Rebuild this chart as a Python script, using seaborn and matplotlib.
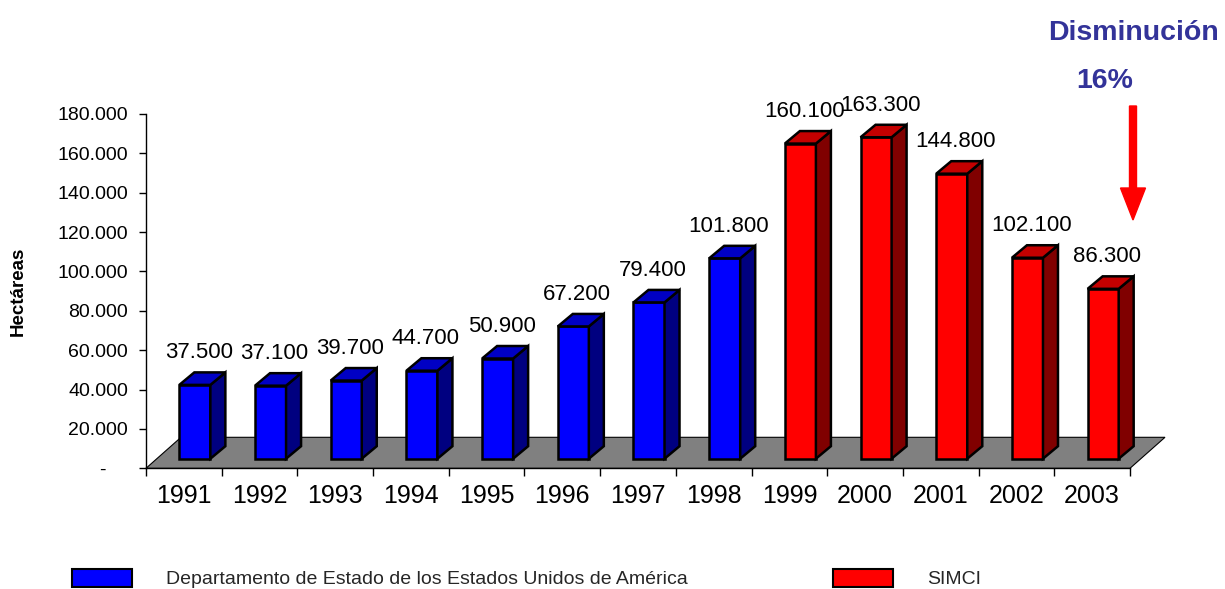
import numpy as np
import pandas as pd
import matplotlib
matplotlib.use("Agg")
import matplotlib.pyplot as plt
import seaborn as sns
from matplotlib.patches import Polygon, Patch, FancyArrow
from matplotlib.transforms import ScaledTranslation

# ---------------- data ----------------
years = ["1991", "1992", "1993", "1994", "1995", "1996", "1997",
         "1998", "1999", "2000", "2001", "2002", "2003"]
dos_years = years[:8]
dos_values = [37500, 37100, 39700, 44700, 50900, 67200, 79400, 101800]
simci_years = years[8:]
simci_values = [160100, 163300, 144800, 102100, 86300]
source_labels = ["Departamento de Estado de los Estados Unidos de América", "SIMCI"]
y_ticks = [0, 20000, 40000, 60000, 80000, 100000, 120000, 140000, 160000, 180000]
y_label = "Hectáreas"
note_title = "Disminución"
note_value = "16%"

df = pd.DataFrame({
    "year": dos_years + simci_years,
    "value": dos_values + simci_values,
    "source": [source_labels[0]] * len(dos_years) + [source_labels[1]] * len(simci_years),
})

# ---------------- style ----------------
sns.set_style("white")
plt.rcParams["font.family"] = ["Liberation Sans", "DejaVu Sans"]

DPI = 100
W, H = 1225, 589
fig = plt.figure(figsize=(W / DPI, H / DPI), dpi=DPI, facecolor="white")
ax = fig.add_axes([146 / W, 1 - 468.3 / H, 984 / W, 354.3 / H])

front = {source_labels[0]: "#0000FF", source_labels[1]: "#FF0000"}
top_c = {source_labels[0]: "#0000C4", source_labels[1]: "#C40000"}
side_c = {source_labels[0]: "#000080", source_labels[1]: "#800000"}

sns.barplot(data=df, x="year", y="value", hue="source", order=years,
            hue_order=source_labels, palette=front, dodge=False, width=0.41,
            saturation=1, edgecolor="black", linewidth=1.8, legend=False,
            ax=ax, zorder=3)
bars = list(ax.patches)

ax.set_xlim(-0.5, len(years) - 0.5)
ax.set_ylim(0, 180000)


def px_to_data(dxp, dyp):
    o = ax.transData.transform((0, 0))
    p = ax.transData.inverted().transform((o[0] + dxp, o[1] + dyp))
    return p[0], p[1]


# 3D geometry (pixels)
shift_x, shift_y = 11, 9.6      # bars placed inside the floor depth
depth_x, depth_y = 15, 12.5     # bar depth
floor_x, floor_y = 35, 31       # floor depth

bar_tr = ax.transData + ScaledTranslation(shift_x / DPI, shift_y / DPI, fig.dpi_scale_trans)
ddx, ddy = px_to_data(depth_x, depth_y)
year_source = dict(zip(df["year"], df["source"]))

for bar in bars:
    x0, w, h = bar.get_x(), bar.get_width(), bar.get_height()
    src = year_source[years[int(round(x0 + w / 2))]]
    bar.set_transform(bar_tr)
    bar.set_clip_on(False)
    side = Polygon([(x0 + w, 0), (x0 + w + ddx, ddy), (x0 + w + ddx, h + ddy), (x0 + w, h)],
                   closed=True, facecolor=side_c[src], edgecolor="black", linewidth=1.8,
                   transform=bar_tr, zorder=3, clip_on=False, joinstyle="miter")
    topf = Polygon([(x0, h), (x0 + w, h), (x0 + w + ddx, h + ddy), (x0 + ddx, h + ddy)],
                   closed=True, facecolor=top_c[src], edgecolor="black", linewidth=1.8,
                   transform=bar_tr, zorder=3, clip_on=False, joinstyle="miter")
    ax.add_patch(side)
    ax.add_patch(topf)
    label = f"{h:,.0f}".replace(",", ".")
    ax.annotate(label, xy=(x0 + w / 2, h),
                xytext=(shift_x + 4, shift_y + depth_y + 22 - 8),
                textcoords="offset pixels", ha="center", va="baseline",
                fontsize=16, color="black", annotation_clip=False, zorder=5)

# floor
fdx, fdy = px_to_data(floor_x, floor_y)
x_lo, x_hi = -0.5, len(years) - 0.5
floor = Polygon([(x_lo, 0), (x_hi, 0), (x_hi + fdx, fdy), (x_lo + fdx, fdy)], closed=True,
                facecolor="#808080", edgecolor="black", linewidth=0.8, zorder=1, clip_on=False)
ax.add_patch(floor)

# axes styling
for s in ["top", "right"]:
    ax.spines[s].set_visible(False)
for s in ["left", "bottom"]:
    ax.spines[s].set_color("black")
    ax.spines[s].set_linewidth(1)
    ax.spines[s].set_zorder(2)

ax.set_yticks(y_ticks)
ax.set_yticklabels(["-    " if v == 0 else f"{v:,.0f}".replace(",", ".") for v in y_ticks])
ax.set_xticks(range(len(years)))
ax.set_xticklabels(years)
ax.set_xticks(np.arange(-0.5, len(years)), minor=True)
ax.tick_params(axis="x", which="major", bottom=True, length=0, pad=11, labelsize=18,
               labelcolor="black")
ax.tick_params(axis="x", which="minor", bottom=True, length=6, width=1, direction="out",
               color="black")
ax.tick_params(axis="y", which="major", left=True, length=5, width=1, direction="out",
               color="black", pad=8, labelsize=14, labelcolor="black")
ax.set_xlabel("")
ax.set_ylabel("")
ax.grid(False)
ax.set_facecolor("none")

fig.text(18.5 / W, 1 - 291.7 / H, y_label, rotation=90, fontweight="bold", fontsize=13.5,
         ha="center", va="center", color="black")

# annotation
fig.text(1134 / W, 1 - 40 / H, note_title, fontweight="bold", fontsize=20.5,
         ha="center", va="baseline", color="#333399")
fig.text(1105 / W, 1 - 88.3 / H, note_value, fontweight="bold", fontsize=20.5,
         ha="center", va="baseline", color="#333399")
arrow = FancyArrow(1133 / DPI, (H - 106) / DPI, 0, -(220 - 106) / DPI, width=0.07,
                   head_width=0.25, head_length=0.32, length_includes_head=True,
                   color="#FF0000", transform=fig.dpi_scale_trans)
fig.add_artist(arrow)

# legend
handles = [Patch(facecolor=front[s], edgecolor="black", linewidth=1.5) for s in source_labels]
fs = 14
fpx = fs * DPI / 72
fig.legend(handles, source_labels, loc="center left", bbox_to_anchor=(72 / W, 1 - 578.5 / H),
           ncol=2, frameon=False, fontsize=fs, handlelength=60 / fpx, handleheight=20 / fpx,
           handletextpad=34 / fpx, columnspacing=145 / fpx, borderpad=0, borderaxespad=0)

fig.savefig("out.png", dpi=DPI, facecolor="white")
